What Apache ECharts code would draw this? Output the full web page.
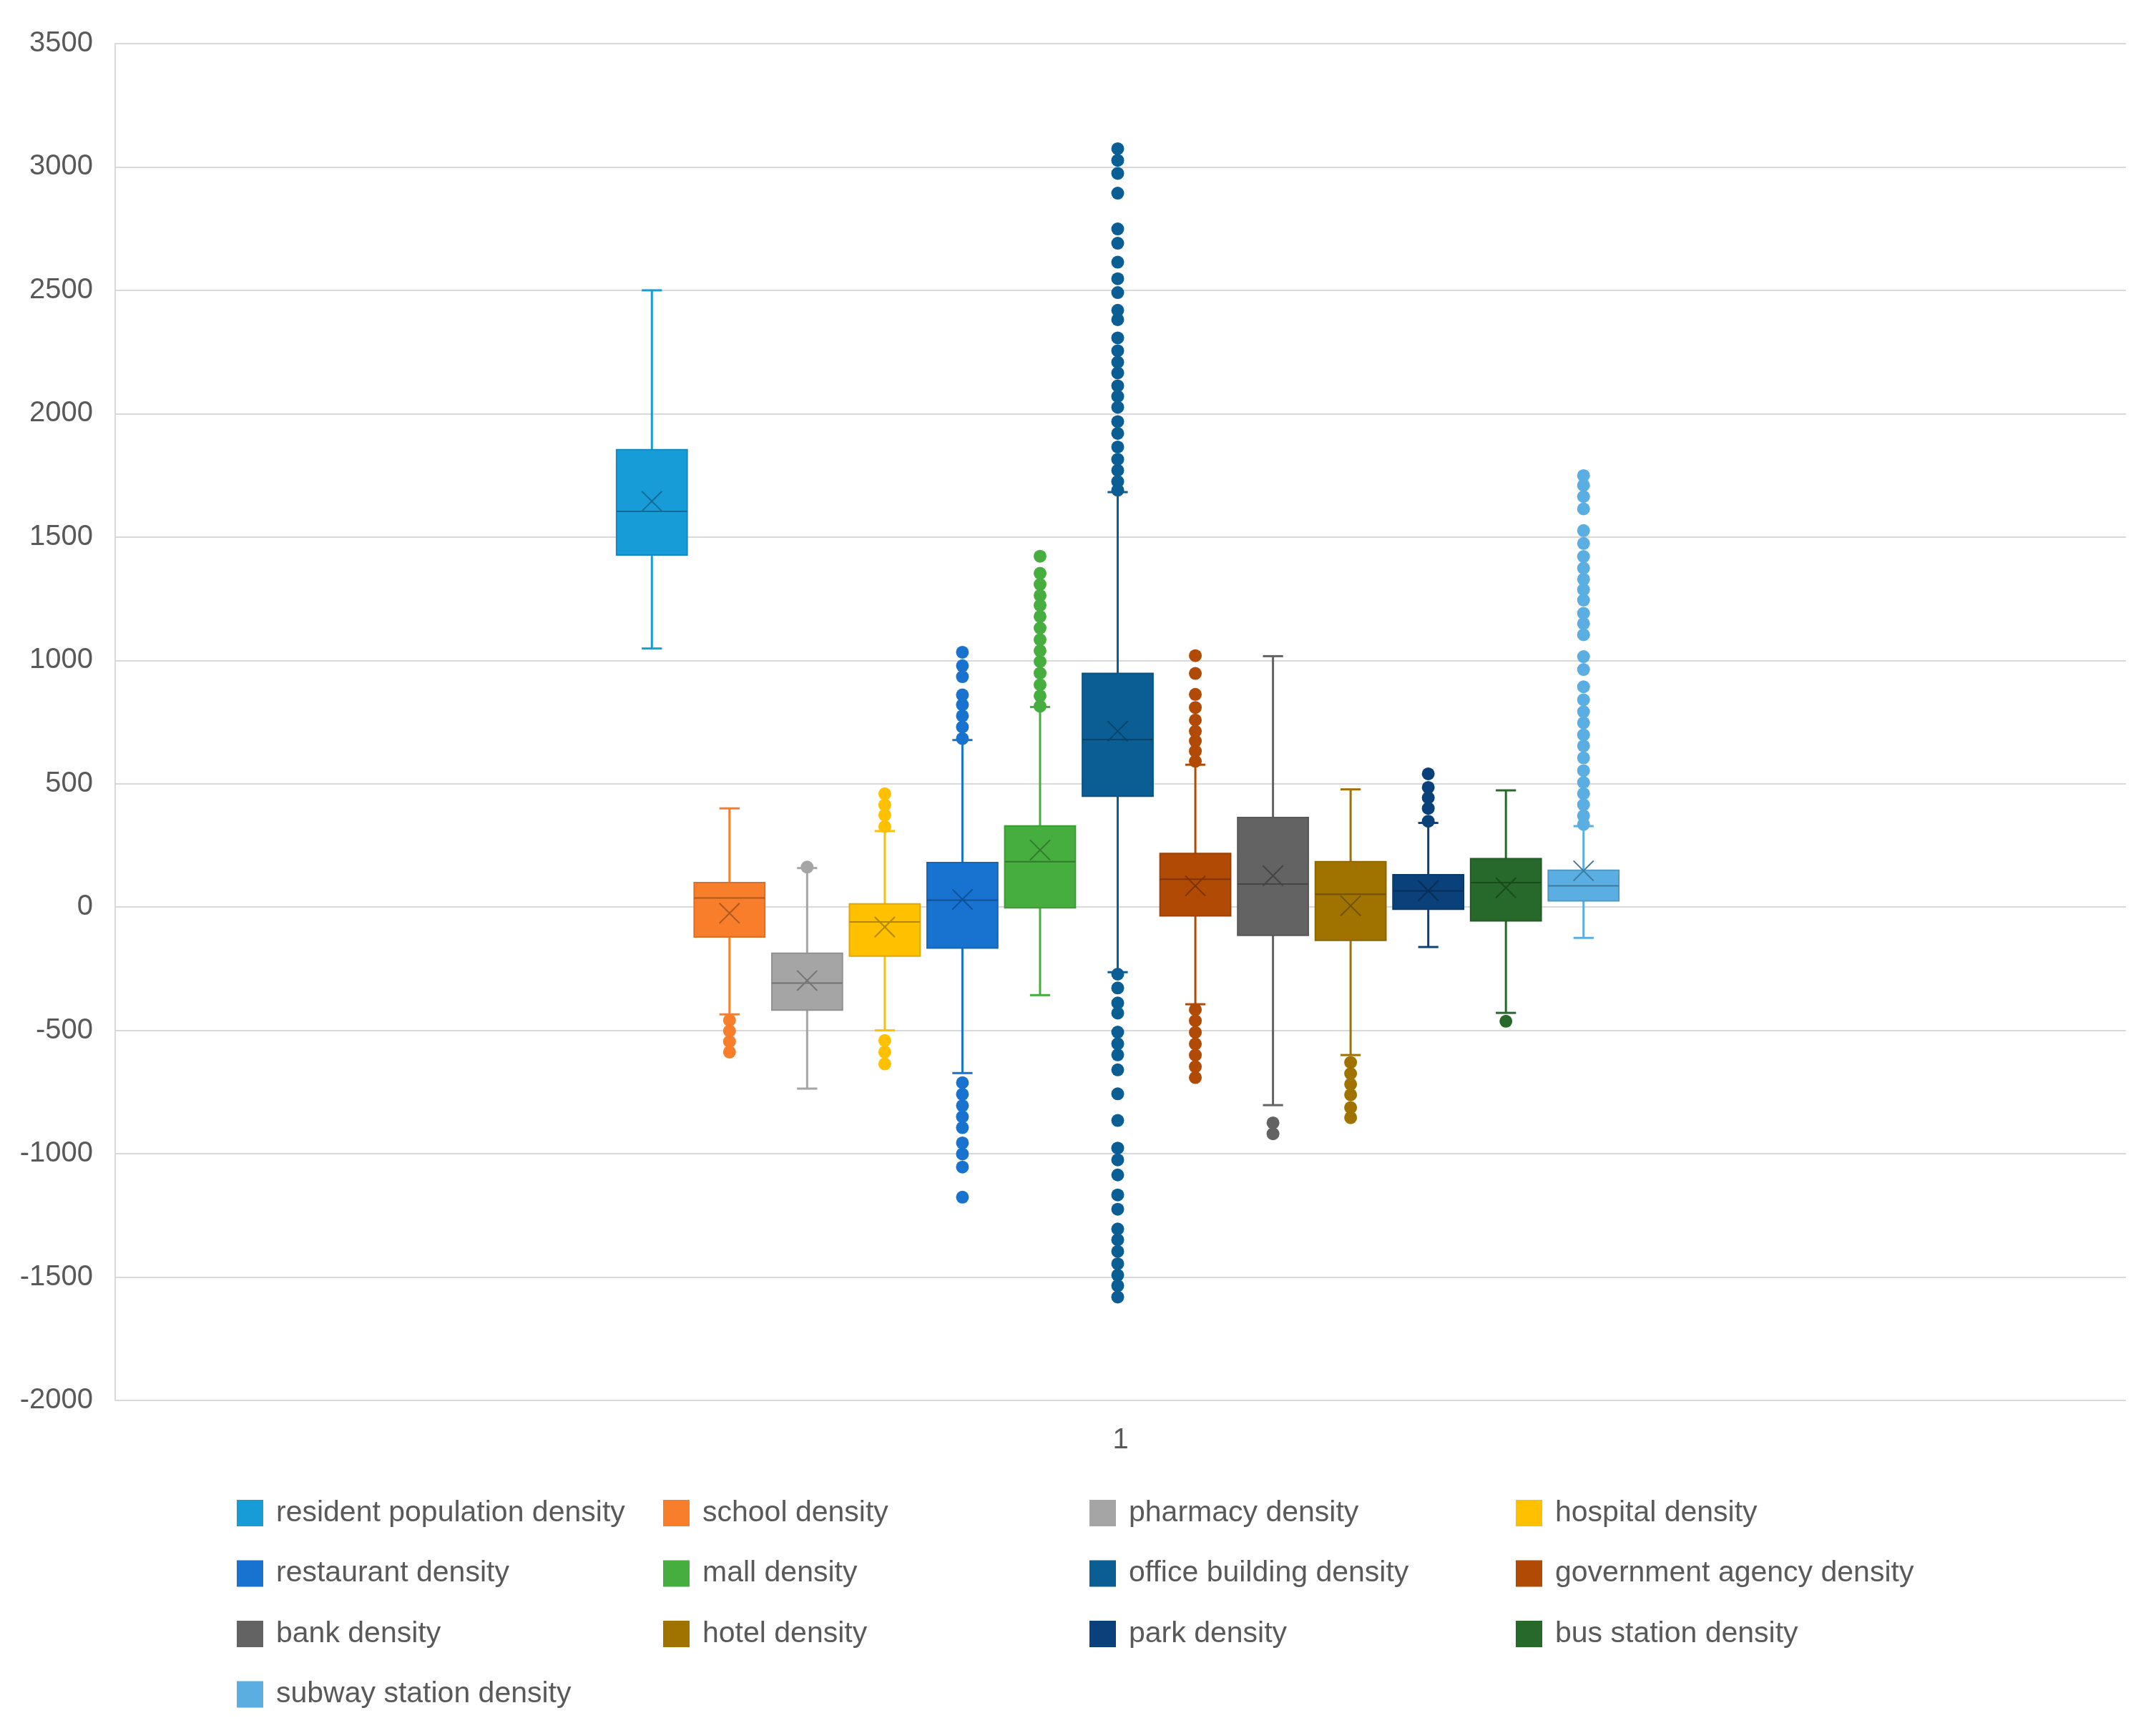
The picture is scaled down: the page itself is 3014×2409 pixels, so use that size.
<!DOCTYPE html>
<html>
<head>
<meta charset="utf-8">
<title>density box plot</title>
<script src="https://cdn.jsdelivr.net/npm/echarts@6/dist/echarts.min.js"></script>
<style>
  html, body { margin: 0; padding: 0; background: #fff; }
  #chart { width: 3014px; height: 2409px; }
</style>
</head>
<body>
<div id="chart"></div>
<script>
// categories, in plotting order
var names = [
    'resident population density', 'school density', 'pharmacy density', 'hospital density',
    'restaurant density', 'mall density', 'office building density', 'government agency density',
    'bank density', 'hotel density', 'park density', 'bus station density', 'subway station density'
];
// box statistics
var whiskerLow  = [1048, -435, -736, -500, -673, -357, -264, -394, -803, -600, -162, -429, -125];
var q1          = [1427, -121, -418, -199, -166,   -3,  449,  -36, -115, -135,   -9,  -56,   25];
var median      = [1604,   37, -308,  -60,   28,  184,  679,  113,   93,   52,   66,   99,   86];
var q3          = [1854,   99, -187,   13,  180,  329,  947,  217,  363,  184,  131,  196,  149];
var whiskerHigh = [2500,  400,  158,  308,  677,  811, 1682,  577, 1017,  477,  341,  473,  328];
var means       = [1645,  -25, -298,  -81,   31,  231,  713,   86,  127,    5,   66,   78,  147];
// outlier points per category
var outliers = [
    [],
    [-459, -502, -545, -588],
    [162],
    [326, 373, 414, 459, -541, -588, -636],
    [683, 730, 775, 820, 860, 934, 978, 1033, -712, -759, -805, -850, -894, -956, -1001, -1054, -1176],
    [814, 856, 901, 948, 995, 1039, 1084, 1131, 1178, 1223, 1263, 1308, 1353, 1422],
    [1690, 1725, 1770, 1815, 1865, 1920, 1968, 2026, 2070, 2113, 2165, 2209, 2255, 2307, 2381, 2419,
     2491, 2547, 2614, 2691, 2749, 2894, 2974, 3027, 3074,
     -272, -328, -389, -430, -507, -554, -599, -660, -757, -865, -977, -1025, -1086, -1167, -1225,
     -1305, -1349, -1396, -1446, -1492, -1535, -1581],
    [591, 632, 673, 713, 758, 809, 862, 947, 1019, -416, -461, -508, -555, -600, -647, -691],
    [-875, -919],
    [-630, -675, -718, -761, -813, -854],
    [348, 400, 443, 485, 540],
    [-463],
    [335, 370, 415, 460, 505, 553, 605, 653, 698, 747, 792, 840, 893, 963, 1015, 1104, 1149, 1191,
     1244, 1287, 1329, 1374, 1421, 1474, 1526, 1614, 1664, 1709, 1749]
];
var xLabels = ['1'];

var colors = ['#179cd8', '#f97e2c', '#a5a5a5', '#ffc000', '#1773cf', '#46ae3f', '#0a5e94',
              '#b04a05', '#636363', '#a07300', '#0b417b', '#27692a', '#5aaee2'];

// mix a hex colour toward black
function shade(hex, f) {
    var n = parseInt(hex.slice(1), 16);
    var r = Math.round(((n >> 16) & 255) * (1 - f));
    var g = Math.round(((n >> 8) & 255) * (1 - f));
    var b = Math.round((n & 255) * (1 - f));
    return 'rgb(' + r + ',' + g + ',' + b + ')';
}

var boxData = [];
for (var i = 0; i < names.length; i++) {
    boxData.push([i, whiskerLow[i], q1[i], median[i], q3[i], whiskerHigh[i], means[i]]);
}

function renderBox(params, api) {
    var i = api.value(0);
    var band = api.size([1, 0])[0];
    var boxW = band * 0.91, capW = band * 0.26, xr = band * 0.13;
    var pLow = api.coord([i, api.value(1)]);
    var pQ1 = api.coord([i, api.value(2)]);
    var pMed = api.coord([i, api.value(3)]);
    var pQ3 = api.coord([i, api.value(4)]);
    var pHigh = api.coord([i, api.value(5)]);
    var pMean = api.coord([i, api.value(6)]);
    var x = pQ1[0];
    var c = colors[i];
    var dark = shade(c, 0.3);
    var wStyle = { stroke: c, lineWidth: 3 };
    var dStyle = { stroke: dark, lineWidth: 2 };
    return {
        type: 'group',
        children: [
            { type: 'line', shape: { x1: x, y1: pQ1[1], x2: x, y2: pLow[1] }, style: wStyle },
            { type: 'line', shape: { x1: x - capW / 2, y1: pLow[1], x2: x + capW / 2, y2: pLow[1] }, style: wStyle },
            { type: 'line', shape: { x1: x, y1: pQ3[1], x2: x, y2: pHigh[1] }, style: wStyle },
            { type: 'line', shape: { x1: x - capW / 2, y1: pHigh[1], x2: x + capW / 2, y2: pHigh[1] }, style: wStyle },
            {
                type: 'rect',
                shape: { x: x - boxW / 2, y: pQ3[1], width: boxW, height: pQ1[1] - pQ3[1] },
                style: { fill: c, stroke: shade(c, 0.12), lineWidth: 2 }
            },
            { type: 'line', shape: { x1: x - boxW / 2, y1: pMed[1], x2: x + boxW / 2, y2: pMed[1] }, style: dStyle },
            { type: 'line', shape: { x1: x - xr, y1: pMean[1] - xr, x2: x + xr, y2: pMean[1] + xr }, style: dStyle },
            { type: 'line', shape: { x1: x - xr, y1: pMean[1] + xr, x2: x + xr, y2: pMean[1] - xr }, style: dStyle }
        ]
    };
}

var series = [{
    type: 'custom',
    name: 'boxes',
    xAxisIndex: 1,
    yAxisIndex: 1,
    renderItem: renderBox,
    encode: { x: 0, y: [1, 2, 3, 4, 5, 6] },
    data: boxData,
    z: 2
}];
for (var k = 0; k < names.length; k++) {
    series.push({
        type: 'scatter',
        name: names[k],
        xAxisIndex: 1,
        yAxisIndex: 1,
        symbol: 'circle',
        symbolSize: 18,
        itemStyle: { color: colors[k], opacity: 1 },
        data: outliers[k].map(function (v) { return [k, v]; }),
        z: 3
    });
}

// legend columns laid out like the original
var legendCols = [[0, 4, 8, 12], [1, 5, 9], [2, 6, 10], [3, 7, 11]];
var legendLeft = [326, 922, 1518, 2114];
var legends = legendCols.map(function (col, ci) {
    return {
        orient: 'vertical',
        left: legendLeft[ci],
        top: 2090,
        icon: 'rect',
        itemWidth: 37,
        itemHeight: 37,
        itemGap: 43.5,
        selectedMode: false,
        data: col.map(function (j) { return names[j]; }),
        textStyle: {
            fontFamily: 'Liberation Sans',
            fontSize: 41,
            lineHeight: 40,
            color: '#595959',
            padding: [0, 0, 0, 13]
        }
    };
});

var labelFont = { fontFamily: 'Liberation Sans', fontSize: 40, color: '#595959' };

var option = {
    animation: false,
    backgroundColor: '#ffffff',
    legend: legends,
    grid: [
        { left: 161, right: 42, top: 61, bottom: 451, outerBoundsMode: 'none', containLabel: false },
        { left: 857, width: 1411, top: 61, bottom: 451, outerBoundsMode: 'none', containLabel: false }
    ],
    xAxis: [
        {
            type: 'category',
            gridIndex: 0,
            data: xLabels,
            axisLine: { show: false },
            axisTick: { show: false },
            axisLabel: Object.assign({ margin: 36 }, labelFont),
            splitLine: { show: false }
        },
        {
            type: 'category',
            gridIndex: 1,
            data: names,
            show: false
        }
    ],
    yAxis: [
        {
            type: 'value',
            gridIndex: 0,
            min: -2000,
            max: 3500,
            interval: 500,
            axisLine: { show: true, lineStyle: { color: '#d9d9d9', width: 2 } },
            axisTick: { show: false },
            axisLabel: Object.assign({
                margin: 31,
                formatter: function (v) { return String(v); }
            }, labelFont),
            splitLine: { show: true, lineStyle: { color: '#d9d9d9', width: 2 } }
        },
        {
            type: 'value',
            gridIndex: 1,
            min: -2000,
            max: 3500,
            interval: 500,
            show: false,
            splitLine: { show: false }
        }
    ],
    series: series
};

var myChart = echarts.init(document.getElementById('chart'));
myChart.setOption(option);
</script>
</body>
</html>
